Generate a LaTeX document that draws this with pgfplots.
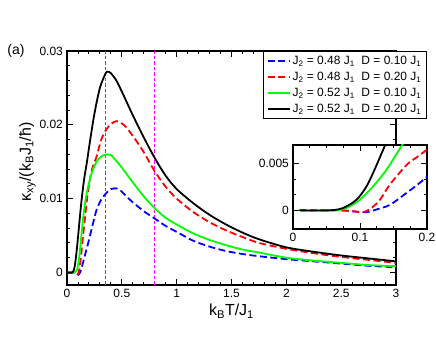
\documentclass[border=0pt]{standalone}
\usepackage{fontspec}
\setmainfont{Liberation Sans}
\usepackage{pgfplots}
\pgfplotsset{compat=1.18}
\usepackage{pgfplotstable}

\definecolor{vgreen}{rgb}{0.15,0.55,0.15}
\definecolor{vmag}{rgb}{1,0,1}

% main panel
\pgfplotstableread{
T y
0 0
0.07 0
0.09 -0.0002
0.105 -0.0003
0.12 0
0.14 0.0010
0.165 0.0024
0.19 0.0038
0.21 0.0050
0.24 0.0068
0.27 0.0085
0.31 0.0098
0.355 0.0107
0.40 0.0113
0.436 0.0114
0.48 0.0112
0.55 0.0102
0.60 0.0095
0.70 0.0083
0.80 0.0073
0.90 0.0063
1.00 0.0055
1.15 0.0043
1.30 0.0035
1.45 0.0029
1.60 0.0025
1.75 0.0022
2.00 0.0018
2.25 0.0015
2.50 0.0012
2.75 0.0009
3.00 0.0007
}\bluemain

\pgfplotstableread{
T y
0 0
0.07 0
0.09 -0.0002
0.105 -0.0001
0.125 0.0018
0.145 0.0048
0.165 0.0075
0.19 0.0108
0.225 0.0138
0.27 0.0157
0.31 0.0179
0.356 0.0193
0.40 0.0201
0.45 0.0205
0.50 0.0202
0.55 0.0195
0.633 0.0178
0.70 0.0163
0.80 0.0137
0.90 0.0116
1.00 0.0100
1.15 0.0082
1.30 0.0068
1.45 0.0057
1.60 0.0048
1.75 0.0040
2.00 0.0032
2.25 0.0026
2.50 0.0021
2.75 0.0017
3.00 0.0013
}\redmain

\pgfplotstableread{
T y
0 0
0.07 0
0.09 0.0003
0.105 0.0014
0.118 0.0030
0.133 0.0053
0.148 0.0075
0.179 0.0107
0.224 0.0134
0.27 0.0150
0.32 0.0158
0.37 0.0160
0.40 0.0159
0.45 0.0151
0.50 0.0142
0.60 0.0122
0.70 0.0103
0.80 0.0087
0.90 0.0074
1.00 0.0065
1.15 0.0053
1.30 0.0044
1.45 0.0037
1.60 0.0031
1.75 0.0027
2.00 0.0020
2.25 0.0016
2.50 0.0013
2.75 0.0010
3.00 0.00085
}\greenmain

\pgfplotstableread{
T y
0 0
0.05 0
0.07 0.0008
0.09 0.0032
0.11 0.0063
0.13 0.0094
0.155 0.0125
0.18 0.0148
0.21 0.0178
0.25 0.0215
0.30 0.0250
0.35 0.0269
0.37 0.0272
0.40 0.0270
0.45 0.0260
0.50 0.0245
0.55 0.0229
0.60 0.0213
0.70 0.0183
0.80 0.0155
0.90 0.0131
1.00 0.0113
1.15 0.0094
1.30 0.0078
1.45 0.0065
1.60 0.0054
1.75 0.0045
2.00 0.0034
2.25 0.0028
2.50 0.0023
2.75 0.0019
3.00 0.0015
}\blackmain

% inset, low-T zoom
\pgfplotstableread{
T y
0.01 0
0.07 0
0.095 -0.00015
0.11 -0.0002
0.125 0.0001
0.145 0.0006
0.17 0.0019
0.185 0.0027
0.20 0.0036
}\blueins

\pgfplotstableread{
T y
0.01 0
0.07 0
0.09 -0.0001
0.105 -0.0002
0.117 0.00025
0.13 0.00115
0.145 0.0028
0.17 0.0049
0.185 0.0057
0.20 0.0065
}\redins

\pgfplotstableread{
T y
0.01 0
0.06 0
0.08 0.00026
0.10 0.00115
0.12 0.0026
0.14 0.0044
0.162 0.0069
0.165 0.0072
}\greenins

\pgfplotstableread{
T y
0.01 0
0.055 0
0.075 0.00026
0.095 0.00115
0.11 0.0026
0.122 0.0044
0.137 0.0069
0.14 0.0073
}\blackins

\pgfplotsset{
  grace/.style={
    scale only axis,
    every axis/.append style={line width=1.6pt},
    axis line style={line width=1.6pt},
    tick style={line width=0.9pt, black},
    major tick length=6pt, minor tick length=3pt,
    tick align=inside,
    tick label style={font=\fontsize{12}{13}\selectfont},
    /pgf/number format/assume math mode=true,
    scaled ticks=false,
    xticklabel style={/pgf/number format/fixed},
    yticklabel style={/pgf/number format/fixed, /pgf/number format/precision=3},
  },
  bl/.style={blue, line width=1.8pt, dash pattern=on 7pt off 3.5pt},
  rd/.style={red, line width=1.8pt, dash pattern=on 7pt off 3.5pt},
  gr/.style={green, line width=1.8pt},
  bk/.style={black, line width=1.8pt},
}

\begin{document}
\begin{tikzpicture}
\path[use as bounding box] (0,0) rectangle (436pt,337pt);

\begin{axis}[grace,
  at={(67pt,52pt)}, anchor=south west,
  width=329pt, height=234pt,
  xmin=0, xmax=3, ymin=-0.0017, ymax=0.03,
  xtick={0,0.5,...,3}, minor x tick num=4,
  ytick={0,0.01,0.02,0.03}, minor y tick num=4,
  xlabel={k\textsubscript{B}T/J\textsubscript{1}},
  ylabel={κ\textsubscript{xy}/(k\textsubscript{B}J\textsubscript{1}/ħ)},
  label style={font=\fontsize{16}{18}\selectfont},
  xlabel style={at={(axis description cs:0.5,-0.13)}, anchor=base},
  ylabel style={at={(axis description cs:-0.11,0.526)}, anchor=base},
  legend style={at={(1.094,1)}, anchor=north east, draw=black, line width=1pt,
    fill=white, font=\fontsize{12}{13}\selectfont, row sep=2.2pt,
    inner xsep=3pt, inner ysep=2.5pt},
  legend cell align=left,
  legend image code/.code={\draw[#1] (0pt,0pt) -- (22pt,0pt);},
]
\addplot[vgreen, line width=1pt, dash pattern=on 3.5pt off 2pt, forget plot]
  coordinates {(0.35,-0.0017) (0.35,0.03)};
\addplot[vmag, line width=1pt, dash pattern=on 3.5pt off 2pt, forget plot]
  coordinates {(0.8,-0.0017) (0.8,0.03)};
\addplot[bl, smooth] table[x=T,y=y] {\bluemain};
\addplot[rd, smooth] table[x=T,y=y] {\redmain};
\addplot[gr, smooth] table[x=T,y=y] {\greenmain};
\addplot[bk, smooth] table[x=T,y=y] {\blackmain};
\legend{J\textsubscript{2} = 0.48 J\textsubscript{1}\ \ D = 0.10 J\textsubscript{1},
        J\textsubscript{2} = 0.48 J\textsubscript{1}\ \ D = 0.20 J\textsubscript{1},
        J\textsubscript{2} = 0.52 J\textsubscript{1}\ \ D = 0.10 J\textsubscript{1},
        J\textsubscript{2} = 0.52 J\textsubscript{1}\ \ D = 0.20 J\textsubscript{1}}
\end{axis}

\node[font=\fontsize{14}{16}\selectfont] at (16pt,286pt) {(a)};

\begin{axis}[grace,
  at={(293pt,108pt)}, anchor=south west,
  width=134pt, height=84pt,
  axis background/.style={fill=white},
  xmin=0, xmax=0.2, ymin=-0.002, ymax=0.007,
  xtick={0,0.1,0.2}, minor x tick num=3,
  ytick={0,0.005}, minor y tick num=2,
]
\addplot[bl, smooth] table[x=T,y=y] {\blueins};
\addplot[rd, smooth] table[x=T,y=y] {\redins};
\addplot[gr, smooth] table[x=T,y=y] {\greenins};
\addplot[bk, smooth] table[x=T,y=y] {\blackins};
\end{axis}
\end{tikzpicture}
\end{document}
